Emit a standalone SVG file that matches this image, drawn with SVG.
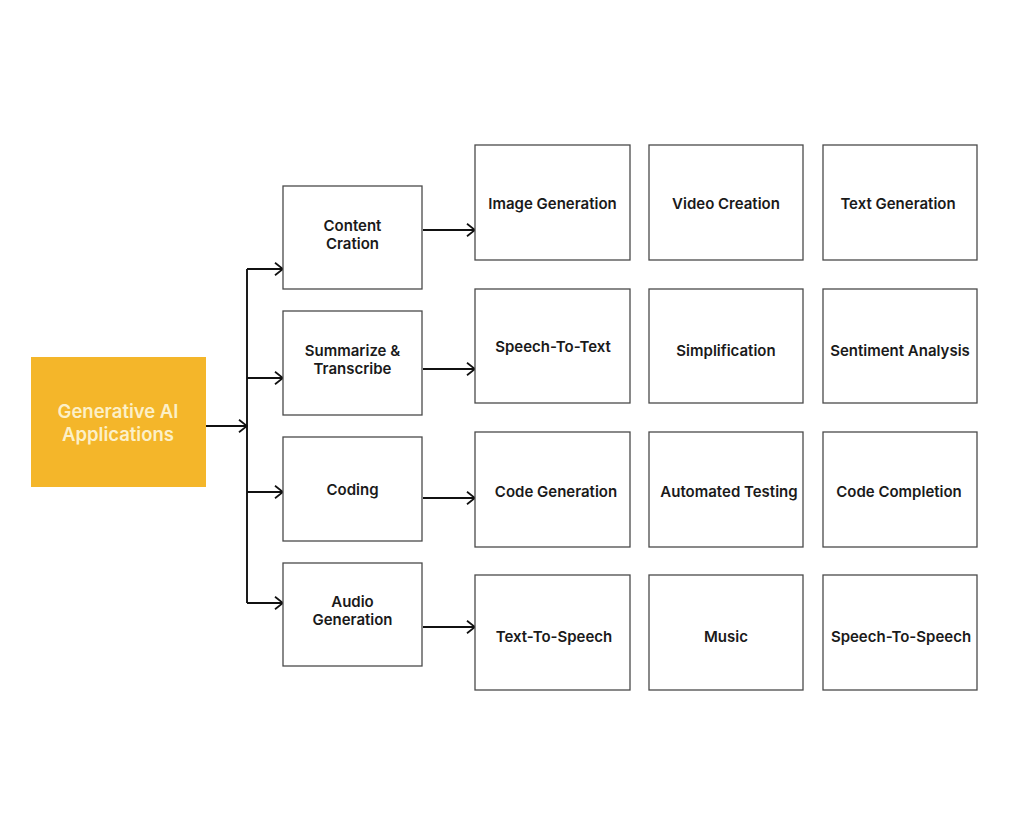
<svg xmlns="http://www.w3.org/2000/svg" width="1024" height="835" viewBox="0 0 1024 835">
<style>
.box{fill:#ffffff;stroke:#4a4a4a;stroke-width:1.3}
.lbl{font-family:Inter,"Liberation Sans",Arial,sans-serif;font-size:15px;font-weight:600;fill:#1a1a1a;text-anchor:middle}
.root{fill:#F4B62A}
.rootlbl{font-family:Inter,"Liberation Sans",Arial,sans-serif;font-size:18.5px;font-weight:600;fill:#FCF0C8;text-anchor:middle}
.conn{fill:none;stroke:#111111;stroke-width:1.9}
</style>
<defs>
<marker id="chev" viewBox="0 0 10 14" refX="9" refY="7" markerWidth="10" markerHeight="14" markerUnits="userSpaceOnUse" orient="auto">
<path d="M1,0.8 L9,7 L1,13.2" fill="none" stroke="#111111" stroke-width="1.8"/>
</marker>
</defs>
<rect width="1024" height="835" fill="#ffffff"/>

<g id="connectors">
<path class="conn" d="M206,426 H247" marker-end="url(#chev)"/>
<path class="conn" d="M247,269 V603"/>
<path class="conn" d="M247,269 H283" marker-end="url(#chev)"/>
<path class="conn" d="M247,378 H283" marker-end="url(#chev)"/>
<path class="conn" d="M247,492 H283" marker-end="url(#chev)"/>
<path class="conn" d="M247,603 H283" marker-end="url(#chev)"/>
<path class="conn" d="M423,230 H475" marker-end="url(#chev)"/>
<path class="conn" d="M423,369 H475" marker-end="url(#chev)"/>
<path class="conn" d="M423,498 H475" marker-end="url(#chev)"/>
<path class="conn" d="M423,627 H475" marker-end="url(#chev)"/>
</g>

<g id="root">
<rect class="root" x="31" y="357" width="175" height="130"/>
<text class="rootlbl" x="118" y="418">Generative AI</text>
<text class="rootlbl" x="118" y="441">Applications</text>
</g>

<g id="content-creation">
<rect class="box" x="283" y="186" width="139" height="103"/>
<text class="lbl" x="352.5" y="230.5">Content</text>
<text class="lbl" x="352.5" y="248.5">Cration</text>
</g>
<g id="summarize">
<rect class="box" x="283" y="311" width="139" height="104"/>
<text class="lbl" x="352.5" y="355.5">Summarize &amp;</text>
<text class="lbl" x="352.5" y="373.5">Transcribe</text>
</g>
<g id="coding">
<rect class="box" x="283" y="437" width="139" height="104"/>
<text class="lbl" x="352.5" y="494.5">Coding</text>
</g>
<g id="audio-generation">
<rect class="box" x="283" y="563" width="139" height="103"/>
<text class="lbl" x="352.5" y="607">Audio</text>
<text class="lbl" x="352.5" y="625">Generation</text>
</g>

<g id="image-generation">
<rect class="box" x="475" y="145" width="155" height="115"/>
<text class="lbl" x="552.5" y="208.5">Image Generation</text>
</g>
<g id="video-creation">
<rect class="box" x="649" y="145" width="154" height="115"/>
<text class="lbl" x="726" y="208.5">Video Creation</text>
</g>
<g id="text-generation">
<rect class="box" x="823" y="145" width="154" height="115"/>
<text class="lbl" x="898" y="208.5">Text Generation</text>
</g>

<g id="speech-to-text">
<rect class="box" x="475" y="289" width="155" height="114"/>
<text class="lbl" x="553" y="351.5">Speech-To-Text</text>
</g>
<g id="simplification">
<rect class="box" x="649" y="289" width="154" height="114"/>
<text class="lbl" x="726" y="356">Simplification</text>
</g>
<g id="sentiment-analysis">
<rect class="box" x="823" y="289" width="154" height="114"/>
<text class="lbl" x="900" y="356">Sentiment Analysis</text>
</g>

<g id="code-generation">
<rect class="box" x="475" y="432" width="155" height="115"/>
<text class="lbl" x="556" y="497">Code Generation</text>
</g>
<g id="automated-testing">
<rect class="box" x="649" y="432" width="154" height="115"/>
<text class="lbl" x="729" y="497">Automated Testing</text>
</g>
<g id="code-completion">
<rect class="box" x="823" y="432" width="154" height="115"/>
<text class="lbl" x="899" y="497">Code Completion</text>
</g>

<g id="text-to-speech">
<rect class="box" x="475" y="575" width="155" height="115"/>
<text class="lbl" x="554" y="642">Text-To-Speech</text>
</g>
<g id="music">
<rect class="box" x="649" y="575" width="154" height="115"/>
<text class="lbl" x="726" y="642">Music</text>
</g>
<g id="speech-to-speech">
<rect class="box" x="823" y="575" width="154" height="115"/>
<text class="lbl" x="901" y="642">Speech-To-Speech</text>
</g>
</svg>
